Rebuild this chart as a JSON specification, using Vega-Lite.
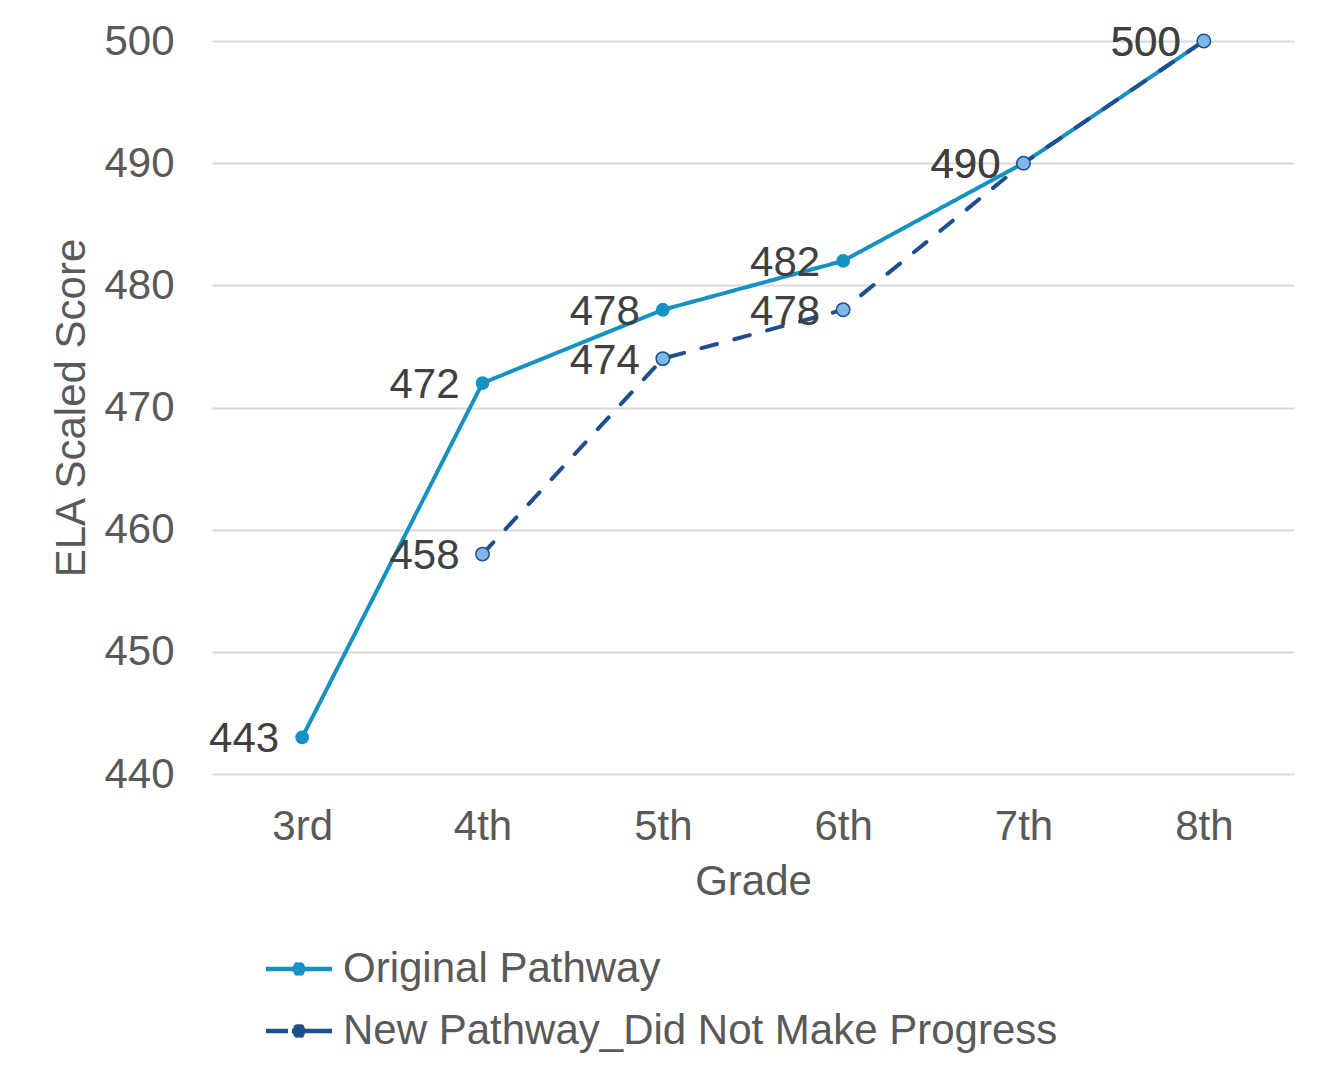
{
  "$schema": "https://vega.github.io/schema/vega-lite/v6.json",
  "width": 1082,
  "height": 733,
  "autosize": {"type": "none"},
  "padding": {"left": 212, "top": 41, "right": 34, "bottom": 295},
  "background": "white",
  "config": {
    "font": "Liberation Sans",
    "view": {"stroke": null},
    "axis": {"labelFont": "Liberation Sans", "titleFont": "Liberation Sans", "labelFontSize": 42, "titleFontSize": 42, "labelColor": "#595959", "titleColor": "#595959", "titleFontWeight": "normal", "domain": false, "ticks": false}
  },
  "data": {
    "values": [
      {"grade": "3rd", "series": "Original Pathway", "score": 443},
      {"grade": "4th", "series": "Original Pathway", "score": 472},
      {"grade": "5th", "series": "Original Pathway", "score": 478},
      {"grade": "6th", "series": "Original Pathway", "score": 482},
      {"grade": "7th", "series": "Original Pathway", "score": 490},
      {"grade": "8th", "series": "Original Pathway", "score": 500},
      {"grade": "4th", "series": "New Pathway_Did Not Make Progress", "score": 458},
      {"grade": "5th", "series": "New Pathway_Did Not Make Progress", "score": 474},
      {"grade": "6th", "series": "New Pathway_Did Not Make Progress", "score": 478},
      {"grade": "7th", "series": "New Pathway_Did Not Make Progress", "score": 490},
      {"grade": "8th", "series": "New Pathway_Did Not Make Progress", "score": 500}
    ]
  },
  "encoding": {
    "x": {
      "field": "grade", "type": "ordinal",
      "scale": {"type": "point", "padding": 0.5, "domain": ["3rd", "4th", "5th", "6th", "7th", "8th"]},
      "axis": {"title": "Grade", "labelAngle": 0, "grid": false, "labelPadding": 32, "titlePadding": 14}
    },
    "y": {
      "field": "score", "type": "quantitative",
      "scale": {"domain": [440, 500], "nice": false, "zero": false},
      "axis": {"title": "ELA Scaled Score", "values": [440, 450, 460, 470, 480, 490, 500], "grid": true, "gridColor": "#d9d9d9", "gridWidth": 2, "labelPadding": 38, "titlePadding": 10}
    }
  },
  "layer": [
    {
      "transform": [{"filter": "datum.series === 'Original Pathway'"}],
      "mark": {"type": "line", "strokeWidth": 4},
      "encoding": {
        "color": {
          "field": "series", "type": "nominal",
          "scale": {"domain": ["Original Pathway", "New Pathway_Did Not Make Progress"], "range": ["#1591C4", "#1F4E8C"]},
          "legend": {
            "title": null, "orient": "none", "legendX": 66, "legendY": 907, "padding": 0, "direction": "vertical",
            "symbolSize": 1089,
            "symbolType": "M-2,0L2,0M0.02,0A0.02,0.02 0 1,1 -0.02,0A0.02,0.02 0 1,1 0.02,0M0.18,0A0.18,0.18 0 1,1 -0.18,0A0.18,0.18 0 1,1 0.18,0M0.302,0A0.09,0.09 0 1,1 0.122,0A0.09,0.09 0 1,1 0.302,0M0.196,0.184A0.09,0.09 0 1,1 0.016,0.184A0.09,0.09 0 1,1 0.196,0.184M-0.016,0.184A0.09,0.09 0 1,1 -0.196,0.184A0.09,0.09 0 1,1 -0.016,0.184M-0.122,0A0.09,0.09 0 1,1 -0.302,0A0.09,0.09 0 1,1 -0.122,0M-0.016,-0.184A0.09,0.09 0 1,1 -0.196,-0.184A0.09,0.09 0 1,1 -0.016,-0.184M0.196,-0.184A0.09,0.09 0 1,1 0.016,-0.184A0.09,0.09 0 1,1 0.196,-0.184",
            "symbolStrokeWidth": 4.5,
            "labelFontSize": 42, "labelFont": "Liberation Sans", "labelColor": "#595959", "labelOffset": 23, "rowPadding": 20, "labelLimit": 1000
          }
        },
        "strokeDash": {
          "field": "series", "type": "nominal",
          "scale": {"domain": ["Original Pathway", "New Pathway_Did Not Make Progress"], "range": [[1, 0], [22, 18, 26, 0]]},
          "legend": {
            "title": null, "orient": "none", "legendX": 66, "legendY": 907, "padding": 0, "direction": "vertical",
            "symbolSize": 1089,
            "symbolType": "M-2,0L2,0M0.02,0A0.02,0.02 0 1,1 -0.02,0A0.02,0.02 0 1,1 0.02,0M0.18,0A0.18,0.18 0 1,1 -0.18,0A0.18,0.18 0 1,1 0.18,0M0.302,0A0.09,0.09 0 1,1 0.122,0A0.09,0.09 0 1,1 0.302,0M0.196,0.184A0.09,0.09 0 1,1 0.016,0.184A0.09,0.09 0 1,1 0.196,0.184M-0.016,0.184A0.09,0.09 0 1,1 -0.196,0.184A0.09,0.09 0 1,1 -0.016,0.184M-0.122,0A0.09,0.09 0 1,1 -0.302,0A0.09,0.09 0 1,1 -0.122,0M-0.016,-0.184A0.09,0.09 0 1,1 -0.196,-0.184A0.09,0.09 0 1,1 -0.016,-0.184M0.196,-0.184A0.09,0.09 0 1,1 0.016,-0.184A0.09,0.09 0 1,1 0.196,-0.184",
            "symbolStrokeWidth": 4.5,
            "labelFontSize": 42, "labelFont": "Liberation Sans", "labelColor": "#595959", "labelOffset": 23, "rowPadding": 20, "labelLimit": 1000
          }
        }
      }
    },
    {
      "transform": [{"filter": "datum.series !== 'Original Pathway'"}],
      "mark": {"type": "line", "strokeWidth": 4, "strokeDash": [16, 18], "strokeCap": "round", "color": "#1F4E8C"}
    },
    {
      "transform": [{"filter": "datum.series === 'Original Pathway'"}],
      "mark": {"type": "point", "filled": true, "opacity": 1},
      "encoding": {"color": {"value": "#1591C4"}, "size": {"value": 190}}
    },
    {
      "transform": [{"filter": "datum.series !== 'Original Pathway'"}],
      "mark": {"type": "point", "filled": true, "stroke": "#1F4E8C", "strokeWidth": 1.5, "opacity": 1},
      "encoding": {"fill": {"value": "#7FB8E6"}, "size": {"value": 180}}
    },
    {
      "mark": {"type": "text", "align": "right", "baseline": "middle", "dx": -23, "dy": 2, "fontSize": 42, "font": "Liberation Sans"},
      "encoding": {
        "text": {"field": "score", "type": "quantitative"},
        "color": {"value": "#404040"}
      }
    }
  ]
}
